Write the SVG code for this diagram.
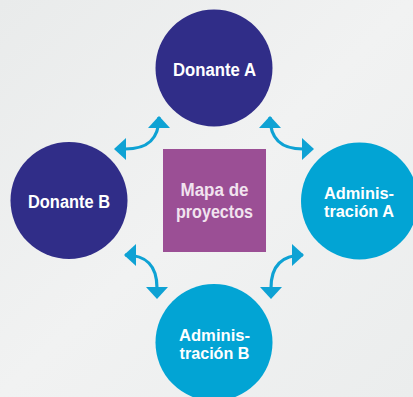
<svg xmlns="http://www.w3.org/2000/svg" width="413" height="397" viewBox="0 0 413 397">
<defs>
<linearGradient id="bg" x1="0" y1="0" x2="1" y2="1">
<stop offset="0" stop-color="#e9ebeb"/>
<stop offset="0.5" stop-color="#f1f2f2"/>
<stop offset="1" stop-color="#ebeded"/>
</linearGradient>
<marker id="ah" viewBox="0 0 12 22" refX="1" refY="11" markerWidth="12" markerHeight="22" markerUnits="userSpaceOnUse" orient="auto">
<path d="M0,0 L12,11 L0,22 Z" fill="#0ea2d4"/>
</marker>
<marker id="ahs" viewBox="0 0 12 22" refX="11" refY="11" markerWidth="12" markerHeight="22" markerUnits="userSpaceOnUse" orient="auto-start-reverse">
<path d="M0,0 L12,11 L0,22 Z" fill="#0ea2d4"/>
</marker>
</defs>
<style>
.dark{fill:#302d88}
.light{fill:#02a4d4}
.t{font-family:"Liberation Sans",Arial,sans-serif;font-weight:bold;font-size:18px;fill:#ffffff;text-anchor:middle}
.s{font-size:16px}
.m{fill:#f1e3ef}
.c{fill:none;stroke:#0ea2d4;stroke-width:3.2}
</style>
<rect width="413" height="397" fill="url(#bg)"/>
<g id="connectors">
<path class="c" d="M159,117 C159,140 147,149 125,149" marker-start="url(#ahs)" marker-end="url(#ah)"/>
<path class="c" d="M270,117 C270,140 282,149 303,149" marker-start="url(#ahs)" marker-end="url(#ah)"/>
<path class="c" d="M125,255 C146,255 157,265 157,288" marker-start="url(#ahs)" marker-end="url(#ah)"/>
<path class="c" d="M303,255 C283,255 271,265 271,288" marker-start="url(#ahs)" marker-end="url(#ah)"/>
</g>
<g id="donante-a">
<circle class="dark" cx="214" cy="68" r="58.5"/>
<text class="t" x="214.5" y="76" textLength="83" lengthAdjust="spacingAndGlyphs">Donante A</text>
</g>
<g id="donante-b">
<circle class="dark" cx="69" cy="200.5" r="58.5"/>
<text class="t" x="69" y="208" textLength="82" lengthAdjust="spacingAndGlyphs">Donante B</text>
</g>
<g id="administracion-a">
<circle class="light" cx="359.5" cy="201" r="58.5"/>
<text class="t s" x="359" y="198.5" textLength="70" lengthAdjust="spacingAndGlyphs">Adminis-</text>
<text class="t s" x="359" y="217" textLength="70" lengthAdjust="spacingAndGlyphs">tración A</text>
</g>
<g id="administracion-b">
<circle class="light" cx="214" cy="342.5" r="58.5"/>
<text class="t s" x="214.5" y="340.5" textLength="71" lengthAdjust="spacingAndGlyphs">Adminis-</text>
<text class="t s" x="214.5" y="359" textLength="70" lengthAdjust="spacingAndGlyphs">tración B</text>
</g>
<g id="mapa">
<rect x="163" y="149" width="103" height="103" fill="#9b4f95"/>
<text class="t m" x="214.5" y="196" textLength="68" lengthAdjust="spacingAndGlyphs">Mapa de</text>
<text class="t m" x="214.5" y="218" textLength="77" lengthAdjust="spacingAndGlyphs">proyectos</text>
</g>
</svg>
